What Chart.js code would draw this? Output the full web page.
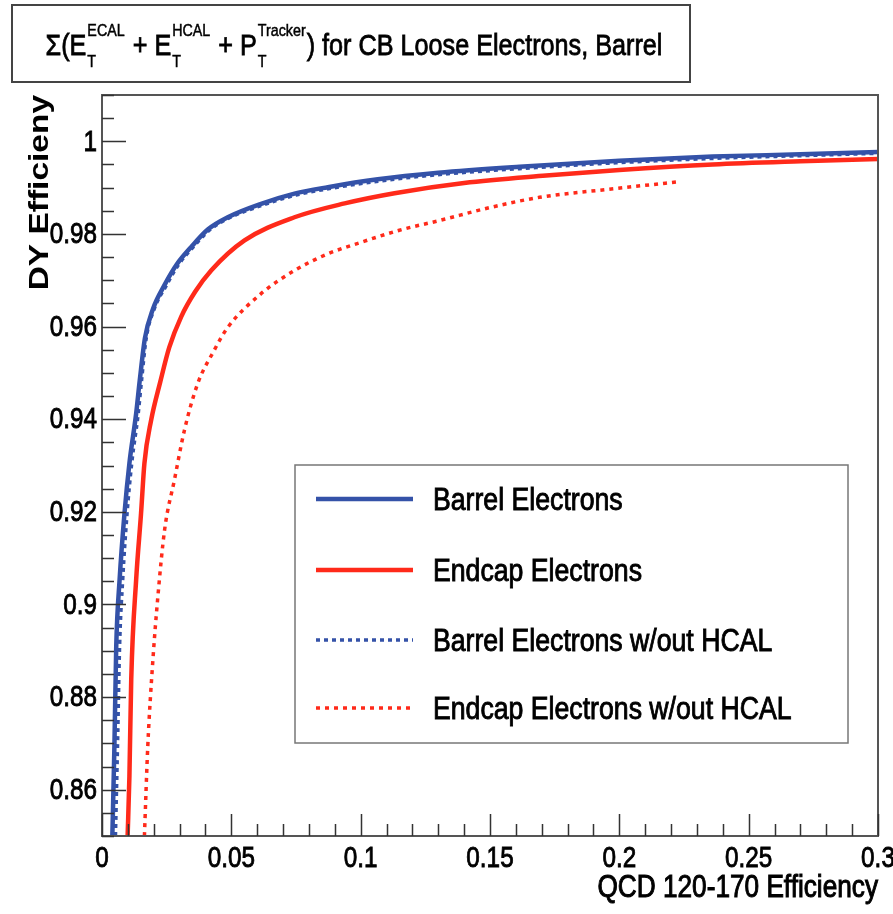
<!DOCTYPE html>
<html>
<head>
<meta charset="utf-8">
<script src="https://cdn.jsdelivr.net/npm/chart.js@4.4.1/dist/chart.umd.min.js"></script>
<style>
  body { margin: 0; background: #fff; }
  canvas { display: block; }
</style>
</head>
<body>
<canvas id="c" width="893" height="914"></canvas>
<script>
// efficiency curves (x = QCD eff, y = DY eff)
const barrelX = [0.0040, 0.0048, 0.0055, 0.0068, 0.0087, 0.0106, 0.0132, 0.0146, 0.0166, 0.0197, 0.0242, 0.0290, 0.0345, 0.0410, 0.0486, 0.0615, 0.0744, 0.0873, 0.1066, 0.1300, 0.1614, 0.2000, 0.2361, 0.2700, 0.3000];
const barrelY = [0.8500, 0.8694, 0.8909, 0.9053, 0.9197, 0.9305, 0.9412, 0.9484, 0.9575, 0.9638, 0.9690, 0.9735, 0.9772, 0.9810, 0.9836, 0.9865, 0.9887, 0.9901, 0.9918, 0.9932, 0.9945, 0.9958, 0.9967, 0.9972, 0.9977];

const endcapX = [0.0099, 0.0106, 0.0113, 0.0132, 0.0151, 0.0164, 0.0190, 0.0225, 0.0260, 0.0306, 0.0360, 0.0422, 0.0551, 0.0744, 0.0938, 0.1131, 0.1400, 0.1717, 0.2000, 0.2361, 0.2700, 0.3000];
const endcapY = [0.8500, 0.8629, 0.8838, 0.9053, 0.9197, 0.9305, 0.9398, 0.9480, 0.9555, 0.9621, 0.9675, 0.9721, 0.9786, 0.9836, 0.9866, 0.9888, 0.9910, 0.9926, 0.9938, 0.9950, 0.9957, 0.9962];

const barrelNoHcalX = [0.0052, 0.0060, 0.0068, 0.0080, 0.0097, 0.0115, 0.0140, 0.0153, 0.0171, 0.0202, 0.0248, 0.0295, 0.0350, 0.0415, 0.0490, 0.0620, 0.0750, 0.0880, 0.1070, 0.1300, 0.1614, 0.2000, 0.2361, 0.2700, 0.3000];
const barrelNoHcalY = [0.8500, 0.8694, 0.8909, 0.9053, 0.9197, 0.9305, 0.9412, 0.9484, 0.9575, 0.9638, 0.9688, 0.9733, 0.9770, 0.9808, 0.9834, 0.9862, 0.9884, 0.9898, 0.9914, 0.9928, 0.9941, 0.9954, 0.9963, 0.9969, 0.9974];

const endcapNoHcalX = [0.0164, 0.0177, 0.0196, 0.0216, 0.0242, 0.0280, 0.0319, 0.0370, 0.0430, 0.0486, 0.0615, 0.0744, 0.0873, 0.1002, 0.1150, 0.1305, 0.1500, 0.1691, 0.1950, 0.2220];
const endcapNoHcalY = [0.8500, 0.8694, 0.8874, 0.9017, 0.9161, 0.9269, 0.9377, 0.9477, 0.9545, 0.9598, 0.9671, 0.9721, 0.9757, 0.9782, 0.9808, 0.9829, 0.9857, 0.9879, 0.9896, 0.9912];

const seriesLabels = ['Barrel Electrons', 'Endcap Electrons', 'Barrel Electrons w/out HCAL', 'Endcap Electrons w/out HCAL'];

// axis ticks
const xTicks = [0, 0.05, 0.1, 0.15, 0.2, 0.25, 0.3];
const yTicks = [0.86, 0.88, 0.9, 0.92, 0.94, 0.96, 0.98, 1];

// no narrow helvetica here, so squeeze Liberation Sans sideways
const FONT = "'Liberation Sans', Arial, sans-serif";
const BLUE = '#3452a8';
const RED = '#ff2a1a';

const toPoints = (xs, ys) => xs.map((x, i) => ({ x: x, y: ys[i] }));

function squeezed(ctx, text, x, y, font, align, sx, heavy) {
  ctx.save();
  ctx.translate(x, y);
  ctx.scale(sx, 1);
  ctx.font = font;
  ctx.textAlign = align;
  ctx.fillText(text, 0, 0);
  if (heavy) {
    // fake a medium weight
    ctx.strokeStyle = ctx.fillStyle;
    ctx.lineWidth = heavy;
    ctx.strokeText(text, 0, 0);
  }
  ctx.restore();
}

// ROOT-ish frame, inside ticks, labels, axis titles, title pave and legend
const rootFrame = {
  id: 'rootFrame',
  afterDraw(chart) {
    const ctx = chart.ctx;
    const { left, right, top, bottom } = chart.chartArea;
    const xs = chart.scales.x, ys = chart.scales.y;
    ctx.save();

    // frame
    ctx.strokeStyle = '#555';
    ctx.lineWidth = 2;
    ctx.strokeRect(left, top, right - left, bottom - top);

    // ticks pointing inside
    ctx.strokeStyle = '#333';
    ctx.lineWidth = 1.5;
    ctx.beginPath();
    for (let k = 0; k <= 32; k++) {
      const v = 0.85 + k * 0.005;
      const py = Math.round(ys.getPixelForValue(v)) + 0.5;
      const major = Math.abs(v * 50 - Math.round(v * 50)) < 1e-6;
      ctx.moveTo(left, py);
      ctx.lineTo(left + (major ? 24 : 12), py);
    }
    for (let k = 0; k <= 30; k++) {
      const v = k * 0.01;
      const px = Math.round(xs.getPixelForValue(v)) + 0.5;
      const major = k % 5 === 0;
      ctx.moveTo(px, bottom);
      ctx.lineTo(px, bottom - (major ? 22 : 12));
    }
    ctx.stroke();

    // tick labels
    ctx.fillStyle = '#000';
    ctx.textBaseline = 'middle';
    const tickFont = '30px ' + FONT;
    yTicks.forEach(v => squeezed(ctx, String(v), left - 5, ys.getPixelForValue(v) + 1, tickFont, 'right', 0.81, 0.9));
    xTicks.forEach(v => squeezed(ctx, String(v), xs.getPixelForValue(v), bottom + 23, tickFont, 'center', 0.81, 0.9));

    // axis titles
    squeezed(ctx, 'QCD 120-170 Efficiency', right, 888, '31px ' + FONT, 'right', 0.845, 1);
    ctx.save();
    ctx.translate(41, top);
    ctx.rotate(-Math.PI / 2);
    squeezed(ctx, 'DY Efficieny', 0, 0, 'bold 27px ' + FONT, 'right', 1.24);
    ctx.restore();

    // title pave
    ctx.fillStyle = '#fff';
    ctx.fillRect(12, 5, 678, 77);
    ctx.strokeStyle = '#444';
    ctx.lineWidth = 2;
    ctx.strokeRect(12, 5, 678, 77);
    const sx = 0.84;
    const big = '30px ' + FONT, small = '17px ' + FONT;
    const parts = [
      { t: 'Σ(E' }, { sup: 'ECAL', sub: 'T' },
      { t: ' + E' }, { sup: 'HCAL', sub: 'T' },
      { t: ' + P' }, { sup: 'Tracker', sub: 'T' },
      { t: ') for CB Loose Electrons, Barrel' }
    ];
    const widthOf = p => {
      if (p.t) { ctx.font = big; return ctx.measureText(p.t).width * sx; }
      ctx.font = small;
      return Math.max(ctx.measureText(p.sup).width, ctx.measureText(p.sub).width) * sx + 2;
    };
    const total = parts.reduce((s, p) => s + widthOf(p), 0);
    let cx = 354 - total / 2;
    const base = 55;
    ctx.fillStyle = '#000';
    ctx.textBaseline = 'alphabetic';
    parts.forEach(p => {
      const w = widthOf(p);
      if (p.t) {
        squeezed(ctx, p.t, cx, base, big, 'left', sx, 0.8);
      } else {
        squeezed(ctx, p.sup, cx + 1, base - 19, small, 'left', sx, 0.5);
        squeezed(ctx, p.sub, cx + 1, base + 12, small, 'left', sx, 0.5);
      }
      cx += w;
    });

    // legend
    ctx.fillStyle = '#fff';
    ctx.fillRect(295, 465, 553, 278);
    ctx.strokeStyle = '#777';
    ctx.lineWidth = 1.5;
    ctx.strokeRect(295, 465, 553, 278);
    const rows = [499, 570, 640, 708];
    chart.data.datasets.forEach((ds, i) => {
      const y = rows[i];
      ctx.strokeStyle = ds.borderColor;
      ctx.lineWidth = ds.borderWidth;
      ctx.setLineDash(ds.borderDash || []);
      ctx.beginPath();
      ctx.moveTo(316, y);
      ctx.lineTo(413, y);
      ctx.stroke();
      ctx.setLineDash([]);
      ctx.fillStyle = '#000';
      ctx.textBaseline = 'middle';
      squeezed(ctx, ds.label, 433, y + 2, '31px ' + FONT, 'left', 0.86, 0.9);
    });
    ctx.restore();
  }
};

const chart = new Chart(document.getElementById('c'), {
  type: 'scatter',
  data: {
    datasets: [
      { label: seriesLabels[0], data: toPoints(barrelX, barrelY), borderColor: BLUE, borderWidth: 4.5 },
      { label: seriesLabels[1], data: toPoints(endcapX, endcapY), borderColor: RED, borderWidth: 4.5 },
      { label: seriesLabels[2], data: toPoints(barrelNoHcalX, barrelNoHcalY), borderColor: BLUE, borderWidth: 3.5, borderDash: [4, 4] },
      { label: seriesLabels[3], data: toPoints(endcapNoHcalX, endcapNoHcalY), borderColor: RED, borderWidth: 3.5, borderDash: [4, 5] }
    ].map(ds => Object.assign(ds, { showLine: true, pointRadius: 0, cubicInterpolationMode: 'monotone', fill: false }))
  },
  options: {
    responsive: false,
    animation: false,
    layout: { padding: { left: 0, top: 95, right: 15, bottom: 0 } },
    plugins: { legend: { display: false }, tooltip: { enabled: false } },
    scales: {
      x: {
        type: 'linear', min: 0, max: 0.3,
        afterFit: s => { s.height = 78; s.paddingLeft = 0; s.paddingRight = 0; },
        afterBuildTicks: s => { s.ticks = xTicks.map(v => ({ value: v })); },
        grid: { display: false, drawTicks: false },
        border: { display: false },
        ticks: { display: false }
      },
      y: {
        type: 'linear', min: 0.85, max: 1.01,
        afterFit: s => { s.width = 102; s.paddingTop = 0; s.paddingBottom = 0; },
        afterBuildTicks: s => { s.ticks = yTicks.map(v => ({ value: v })); },
        grid: { display: false, drawTicks: false },
        border: { display: false },
        ticks: { display: false }
      }
    }
  },
  plugins: [rootFrame]
});
</script>
</body>
</html>
